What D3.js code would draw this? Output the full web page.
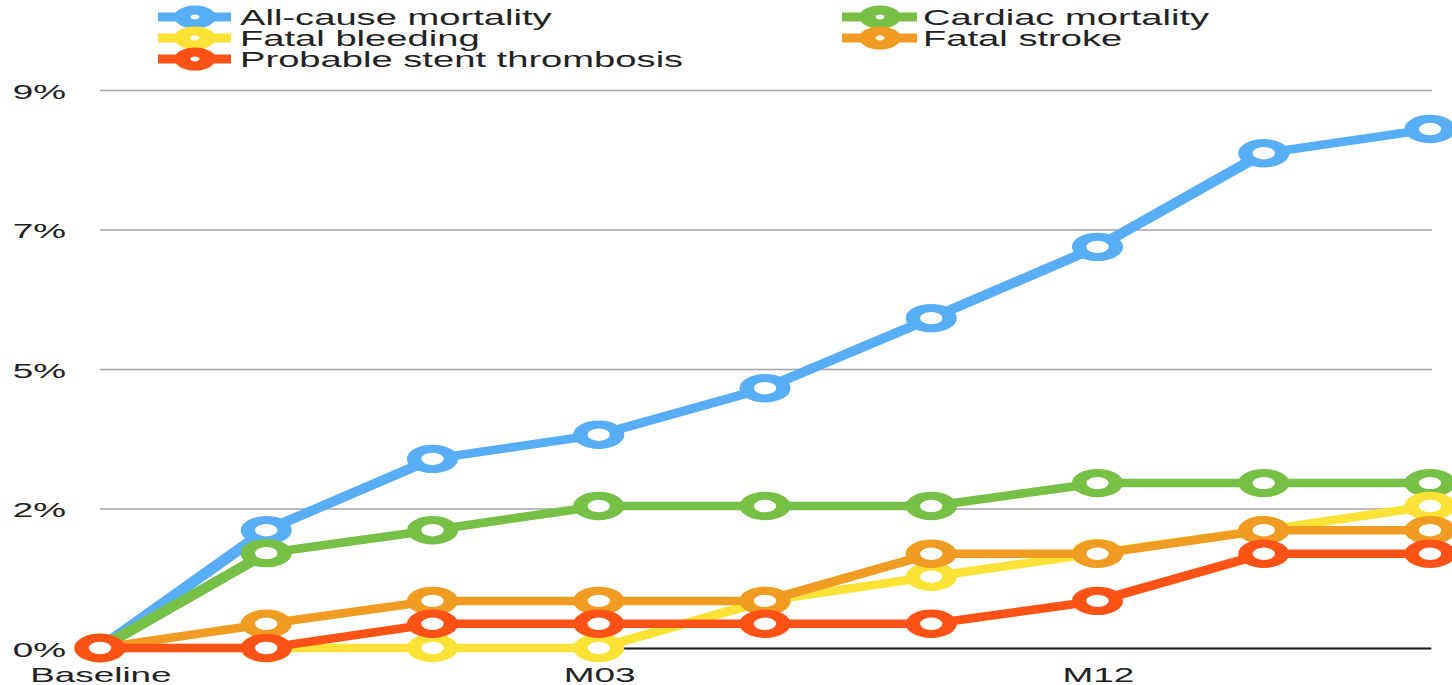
<!DOCTYPE html>
<html>
<head>
<meta charset="utf-8">
<script src="https://cdn.jsdelivr.net/npm/d3@7"></script>
<style>
  html, body { margin: 0; padding: 0; background: #fff; }
  svg { display: block; font-family: "Liberation Sans", Arial, Helvetica, sans-serif; }
</style>
</head>
<body>
<div id="chart"></div>
<script>
// ---- data ----
const categories = ["Baseline", "M01", "M02", "M03", "M06", "M09", "M12", "M18", "M24"];
const xTickLabels = ["Baseline", "M03", "M12"];
const yTickValues = [0, 2.25, 4.5, 6.75, 9];
const yTickLabels = ["0%", "2%", "5%", "7%", "9%"];

const seriesNames = ["All-cause mortality", "Cardiac mortality", "Fatal bleeding", "Fatal stroke", "Probable stent thrombosis"];
const seriesColors = ["#58ADF7", "#76C046", "#FCE234", "#F09B22", "#FC5216"];

const allCause   = [0, 1.90, 3.05, 3.44, 4.19, 5.32, 6.47, 7.98, 8.37];
const cardiac    = [0, 1.53, 1.90, 2.29, 2.29, 2.29, 2.66, 2.66, 2.66];
const bleeding   = [0, 0, 0, 0, 0.76, 1.15, 1.53, 1.90, 2.29];
const stroke     = [0, 0.39, 0.76, 0.76, 0.76, 1.52, 1.52, 1.90, 1.90];
const stent      = [0, 0, 0.39, 0.39, 0.39, 0.39, 0.76, 1.52, 1.52];
const seriesValues = [allCause, cardiac, bleeding, stroke, stent];

// ---- layout ----
const W = 1452, H = 685;
const sx = 1.8; // horizontal stretch of the original picture
const plotLeft = 100, plotRight = 1430, plotTop = 90, plotBottom = 648;

const svg = d3.select("#chart").append("svg")
  .attr("width", W).attr("height", H);
const g = svg.append("g").attr("transform", `scale(${sx},1)`);

const x = d3.scalePoint().domain(categories).range([plotLeft / sx, plotRight / sx]);
const y = d3.scaleLinear().domain([0, 9]).range([plotBottom, plotTop]);

// y axis with gridlines
const yAxis = g.append("g")
  .attr("transform", `translate(${plotLeft / sx},0)`)
  .call(d3.axisLeft(y)
    .tickValues(yTickValues)
    .tickFormat((d, i) => yTickLabels[i])
    .tickSize(-(plotRight + 2 - plotLeft) / sx)
    .tickPadding((plotLeft - 66) / sx));
yAxis.select(".domain").remove();
yAxis.selectAll(".tick line").attr("stroke", "#a4a4a4").attr("stroke-width", 1.3);
yAxis.selectAll(".tick text")
  .attr("fill", "#222").attr("font-size", 20.5)
  .attr("dy", 8)
  .style("font-family", "'Liberation Sans', Arial, sans-serif");

// x axis
const xAxis = g.append("g")
  .attr("transform", `translate(0,${plotBottom})`)
  .call(d3.axisBottom(x).tickValues(xTickLabels).tickSize(0).tickPadding(0));
xAxis.select(".domain").attr("stroke", "#1a1a1a").attr("stroke-width", 2);
xAxis.selectAll(".tick text")
  .attr("fill", "#222").attr("font-size", 20.5)
  .attr("y", 682 - plotBottom).attr("dy", 0)
  .style("font-family", "'Liberation Sans', Arial, sans-serif");

// series
const line = d3.line()
  .x((d, i) => x(categories[i]))
  .y(d => y(d));

seriesValues.forEach((vals, s) => {
  const sg = g.append("g");
  sg.append("path")
    .datum(vals)
    .attr("d", line)
    .attr("fill", "none")
    .attr("stroke", seriesColors[s])
    .attr("stroke-width", 8.5)
    .attr("stroke-linejoin", "round");
  sg.selectAll("circle")
    .data(vals)
    .join("circle")
    .attr("cx", (d, i) => x(categories[i]))
    .attr("cy", d => y(d))
    .attr("r", 10.2)
    .attr("fill", "#fff")
    .attr("stroke", seriesColors[s])
    .attr("stroke-width", 8);
});

// legend (two columns, row-major)
const colLineX = [[158, 231], [842, 917]];
const colCircleX = [195, 880];
const colTextX = [240, 923];
const rowY = [17, 38, 59];
const legend = g.append("g");
seriesNames.forEach((name, i) => {
  const c = i % 2, r = Math.floor(i / 2);
  const lg = legend.append("g");
  lg.append("line")
    .attr("x1", colLineX[c][0] / sx).attr("x2", colLineX[c][1] / sx)
    .attr("y1", rowY[r]).attr("y2", rowY[r])
    .attr("stroke", seriesColors[i]).attr("stroke-width", 9);
  lg.append("circle")
    .attr("cx", colCircleX[c] / sx).attr("cy", rowY[r])
    .attr("r", 7)
    .attr("fill", "#fff")
    .attr("stroke", seriesColors[i]).attr("stroke-width", 9);
  lg.append("text")
    .attr("x", colTextX[c] / sx).attr("y", rowY[r] + 8.5)
    .attr("font-size", 21.2)
    .attr("fill", "#222")
    .text(name);
});
</script>
</body>
</html>
